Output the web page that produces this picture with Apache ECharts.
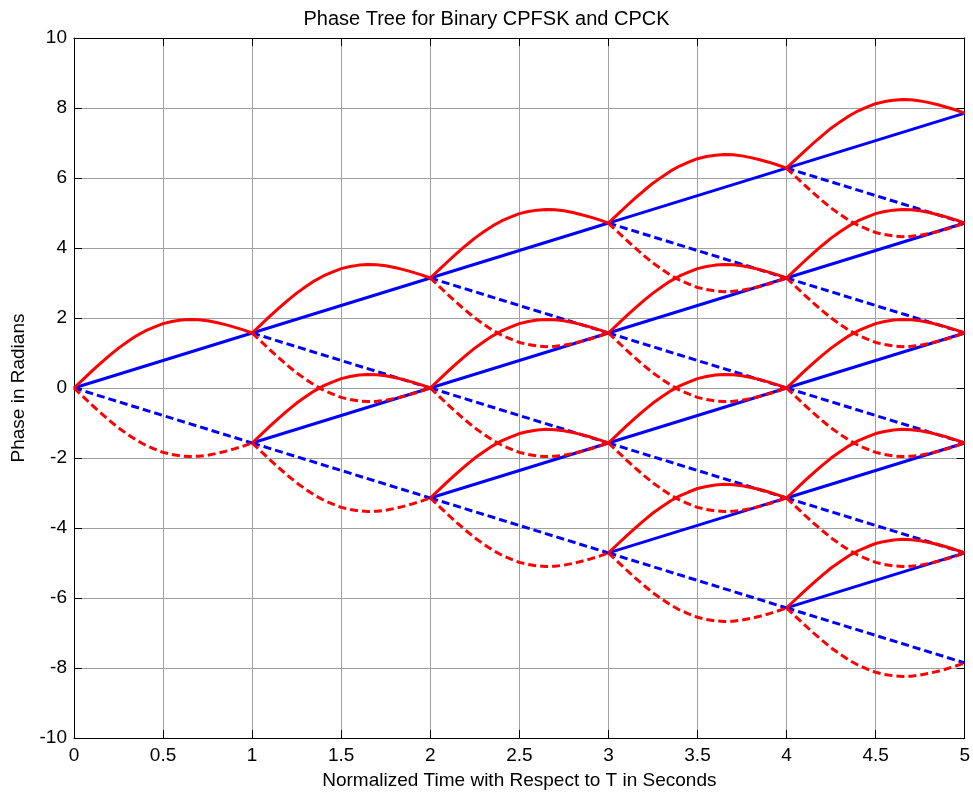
<!DOCTYPE html>
<html>
<head>
<meta charset="utf-8">
<script src="https://cdn.jsdelivr.net/npm/echarts@6/dist/echarts.min.js"></script>
<style>
html,body{margin:0;padding:0;background:#fff;}
#chart{width:973px;height:795px;}
</style>
</head>
<body>
<div id="chart"></div>
<script>
// Node positions of the phase tree (time in T, phase in radians)
const nodeTimes  = [0, 1, 1, 2, 2, 2, 3, 3, 3, 3, 4, 4, 4, 4, 4];
const nodePhases = [0, 1.571, -1.571, 3.142, 0, -3.142, 4.712, 1.571, -1.571, -4.712, 6.283, 3.142, 0, -3.142, -6.283];
// Phase change per symbol for CPFSK (straight lines)
const phaseStep = 1.571;
// CPCK phase trajectory over one symbol, relative to start node
const curveT  = [0, 0.05, 0.1, 0.15, 0.2, 0.25, 0.3, 0.35, 0.4, 0.45, 0.5, 0.55, 0.6, 0.65, 0.7, 0.75, 0.8, 0.85, 0.9, 0.95, 1.0];
const curveUp = [0, 0.24, 0.48, 0.71, 0.93, 1.14, 1.32, 1.49, 1.63, 1.74, 1.84, 1.90, 1.94, 1.96, 1.95, 1.92, 1.87, 1.81, 1.74, 1.66, 1.571];
const xTicks = [0, 0.5, 1, 1.5, 2, 2.5, 3, 3.5, 4, 4.5, 5];
const yTicks = [-10, -8, -6, -4, -2, 0, 2, 4, 6, 8, 10];

const BLUE = '#0000ff', RED = '#ff0000';
const FONT = 'Liberation Sans, Arial, sans-serif';
const series = [];
function addLine(data, color, dashed) {
  series.push({
    type: 'line', data: data, showSymbol: false, symbol: 'none', silent: true,
    animation: false, smooth: false,
    lineStyle: { color: color, width: 3, type: dashed ? [8, 4] : 'solid', cap: 'butt', join: 'round' },
    xAxisIndex: 0, yAxisIndex: 0
  });
}
// Blue CPFSK lines
for (let i = 0; i < nodeTimes.length; i++) {
  const t = nodeTimes[i], p = nodePhases[i];
  addLine([[t, p], [t + 1, p + phaseStep]], BLUE, false);
  addLine([[t, p], [t + 1, p - phaseStep]], BLUE, true);
}
// Red CPCK curves
for (let i = 0; i < nodeTimes.length; i++) {
  const t = nodeTimes[i], p = nodePhases[i];
  addLine(curveT.map((c, k) => [t + c, p + curveUp[k]]), RED, false);
  addLine(curveT.map((c, k) => [t + c, p - curveUp[k]]), RED, true);
}

const chart = echarts.init(document.getElementById('chart'), null, { renderer: 'canvas' });
const axisLineStyle = { show: true, onZero: false, lineStyle: { color: '#000', width: 1 } };
const tickStyle = { show: true, inside: true, length: 8, lineStyle: { color: '#000', width: 1 } };
const gridLine = { show: true, lineStyle: { color: '#a0a0a0', width: 1, type: 'solid' } };
chart.setOption({
  backgroundColor: '#fff',
  animation: false,
  title: {
    text: 'Phase Tree for Binary CPFSK and CPCK',
    left: 'center', top: 4,
    textStyle: { fontFamily: FONT, fontSize: 20, fontWeight: 'normal', color: '#000' }
  },
  grid: { left: 74, right: 6, top: 38, bottom: 54, containLabel: false },
  xAxis: [
    {
      type: 'value', min: xTicks[0], max: xTicks[xTicks.length - 1], interval: 0.5, position: 'bottom',
      name: 'Normalized Time with Respect to T in Seconds', nameLocation: 'middle', nameGap: 33,
      nameTextStyle: { fontFamily: FONT, fontSize: 19, color: '#000' },
      axisLine: axisLineStyle, axisTick: tickStyle,
      axisLabel: { fontFamily: FONT, fontSize: 19, color: '#000', margin: 8 },
      splitLine: gridLine
    },
    {
      type: 'value', min: xTicks[0], max: xTicks[xTicks.length - 1], interval: 0.5, position: 'top',
      axisLine: axisLineStyle, axisTick: tickStyle, axisLabel: { show: false }, splitLine: { show: false }
    }
  ],
  yAxis: [
    {
      type: 'value', min: yTicks[0], max: yTicks[yTicks.length - 1], interval: 2, position: 'left',
      name: 'Phase in Radians', nameLocation: 'middle', nameGap: 46, nameRotate: 90,
      nameTextStyle: { fontFamily: FONT, fontSize: 19, color: '#000' },
      axisLine: axisLineStyle, axisTick: tickStyle,
      axisLabel: { fontFamily: FONT, fontSize: 19, color: '#000', margin: 7 },
      splitLine: gridLine
    },
    {
      type: 'value', min: yTicks[0], max: yTicks[yTicks.length - 1], interval: 2, position: 'right',
      axisLine: axisLineStyle, axisTick: tickStyle, axisLabel: { show: false }, splitLine: { show: false }
    }
  ],
  series: series
});
</script>
</body>
</html>
